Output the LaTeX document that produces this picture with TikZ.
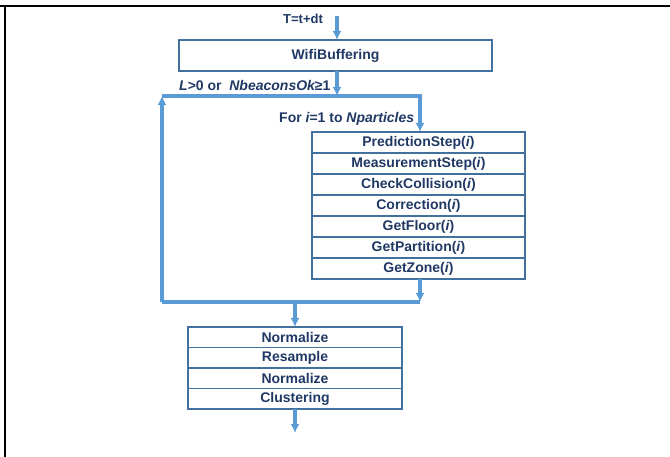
\documentclass[tikz,border=0pt]{standalone}
\usepackage{fontspec}
\setmainfont{Liberation Sans}
\usepackage{tikz}
\usetikzlibrary{positioning, arrows.meta, calc}

\definecolor{flowblue}{RGB}{91,155,213}
\definecolor{boxblue}{RGB}{65,113,156}
\definecolor{navytext}{RGB}{31,56,100}

\tikzset{
  flow/.style={line width=3.4pt, flowblue},
  rowbox/.style={draw=boxblue, line width=1.5pt, minimum height=21pt, inner sep=0pt, outer sep=0pt,
                 text=navytext, font=\fontsize{14}{16}\selectfont\bfseries},
  rowa/.style={rowbox, minimum width=213pt},
  rowb/.style={rowbox, minimum width=214pt, minimum height=20.5pt},
  lbl/.style={text=navytext, font=\fontsize{14}{16}\selectfont\bfseries, inner sep=0pt}
}

\begin{document}
\begin{tikzpicture}[x=1pt, y=-1pt, >={Latex[length=9pt,width=9pt]}]
                    \useasboundingbox (0,0) rectangle (670,457);
                    % Frame (top and left edge)
                    \draw[line width=2.8pt, black] (0,6) -- (153,6);
                    \draw[line width=1.2pt, black] (153,6) -- (526,6);
                    \draw[line width=2.8pt, black] (526,6) -- (670,6);
                    \draw[line width=2.8pt, black] (5,5) -- (5,457);

                    % Time step and buffering
                    \node[lbl, anchor=west, font=\fontsize{13}{15}\selectfont\bfseries] (tstep) at (283,19) {T=t+dt};
                    \coordinate (tin) at (337,16);
                    \node[rowbox, minimum width=313pt, minimum height=31pt] (wifi) at (335.5,55.5) {WifiBuffering};
                    \draw[flow, ->] (tin) -- (tin |- wifi.north);

                    % Loop corners
                    \coordinate (loopTL) at (162,96);
                    \coordinate (loopTR) at (420,96);
                    \coordinate (loopBR) at (420,302);
                    \coordinate (loopBL) at (162,302);
                    \coordinate (wifiout) at (337,71);

                    \node[lbl, anchor=west] (cond) at (179,85) {\itshape L\upshape{}>0 or \ \itshape NbeaconsOk\upshape{}≥1};
                    \draw[flow, ->] (wifiout) -- (wifiout |- loopTL);

                    % Particle loop
                    \node[lbl, anchor=west] (forlbl) at (279,119) {For \itshape i\upshape{}=1 to \itshape Nparticles};
                    \node[rowa] (pred) at (418.5,142.5) {PredictionStep(\textit{i})};
                    \node[rowa, below=0pt of pred] (meas) {MeasurementStep(\textit{i})};
                    \node[rowa, below=0pt of meas] (coll) {CheckCollision(\textit{i})};
                    \node[rowa, below=0pt of coll] (corr) {Correction(\textit{i})};
                    \node[rowa, below=0pt of corr] (floor) {GetFloor(\textit{i})};
                    \node[rowa, below=0pt of floor] (part) {GetPartition(\textit{i})};
                    \node[rowa, below=0pt of part] (zone) {GetZone(\textit{i})};

                    \draw[flow, ->] (loopBL) -- (loopTL);
                    \draw[flow, ->] (loopTL) -- (loopTR) -- (loopTR |- pred.north);
                    \draw[flow, ->] (loopTR |- zone.south) -- (loopBR);
                    \draw[flow] (loopBR) -- (loopBL);

                    % Resampling block
                    \coordinate (loopout) at (295,302);
                    \node[rowb] (norma) at (295,337.25) {Normalize};
                    \node[rowb, below=0pt of norma] (resamp) {Resample};
                    \node[rowb, below=0pt of resamp] (normb) {Normalize};
                    \node[rowb, below=0pt of normb] (clust) {Clustering};
                    \coordinate (out) at (295,433);
                    \draw[flow, ->] (loopout) -- (loopout |- norma.north);
                    \draw[flow, ->] (clust.south) -- (out);
                \end{tikzpicture}
\end{document}
